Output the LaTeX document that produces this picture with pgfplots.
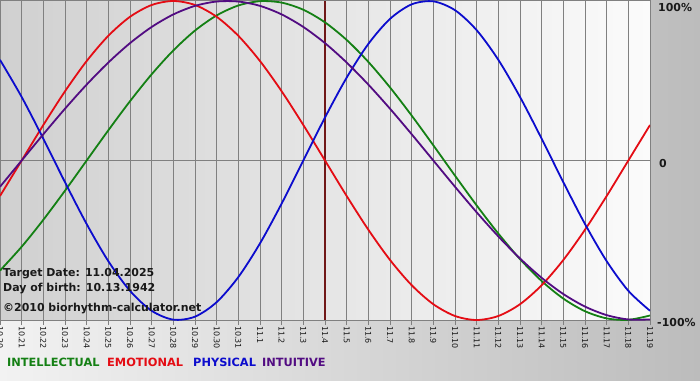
\documentclass[border=0pt]{standalone}
\usepackage{fontspec}
\setmainfont{DejaVu Sans}
\usepackage{pgfplots}
\pgfplotsset{compat=1.18}
\definecolor{cInt}{RGB}{20,128,20}
\definecolor{cEmo}{RGB}{228,12,20}
\definecolor{cPhy}{RGB}{12,12,205}
\definecolor{cItu}{RGB}{82,12,130}
\definecolor{cMark}{RGB}{112,24,24}
\definecolor{cGrid}{RGB}{128,128,128}
\definecolor{bgL}{RGB}{242,242,242}
\definecolor{bgR}{RGB}{188,188,188}
\definecolor{plL}{RGB}{208,208,208}
\definecolor{plR}{RGB}{251,251,251}
\definecolor{txt}{RGB}{25,25,25}
\begin{document}
\begin{tikzpicture}[x=1bp,y=1bp]
\useasboundingbox (0,0) rectangle (700,380);
\shade[left color=bgL, right color=bgR] (0,0) rectangle (700,380);
\begin{axis}[at={(0bp,219.5bp)}, anchor=origin, scale only axis,
  width=650bp, height=319bp,
  xmin=0, xmax=30, ymin=-1, ymax=1,
  axis background/.style={left color=plL, right color=plR},
  axis line style={cGrid, line width=1bp},
  xtick={0,...,30},
  xticklabels={10.20,10.21,10.22,10.23,10.24,10.25,10.26,10.27,10.28,10.29,10.30,10.31,11.1,11.2,11.3,11.4,11.5,11.6,11.7,11.8,11.9,11.10,11.11,11.12,11.13,11.14,11.15,11.16,11.17,11.18,11.19},
  xticklabel style={rotate=-90, anchor=west, font=\fontsize{8}{8}\selectfont, text=txt, inner sep=1bp},
  xtick pos=lower, tick align=outside, major tick length=5bp,
  xtick style={cGrid, line width=1bp},
  ytick={0}, yticklabels={}, ytick style={draw=none},
  xmajorgrids, ymajorgrids,
  grid style={cGrid, line width=1bp},
  every axis plot/.append style={line width=1.8bp, smooth, no markers},
]
\addplot[cMark, line width=2bp, sharp plot] coordinates {(15,-1) (15,1)};
% intellectual
\addplot[cInt] coordinates {
(0,-0.6901) (1,-0.5406) (2,-0.3717) (3,-0.1893) (4,0) (5,0.1893) (6,0.3717) (7,0.5406) (8,0.6901) (9,0.8146) (10,0.9096)
(11,0.9718) (12,0.9989) (13,0.9898) (14,0.9450) (15,0.8660) (16,0.7557) (17,0.6182) (18,0.4582) (19,0.2817) (20,0.0951)
(21,-0.0951) (22,-0.2817) (23,-0.4582) (24,-0.6182) (25,-0.7557) (26,-0.8660) (27,-0.9450) (28,-0.9898) (29,-0.9989) (30,-0.9718)};
% emotional
\addplot[cEmo] coordinates {
(0,-0.2225) (1,0) (2,0.2225) (3,0.4339) (4,0.6235) (5,0.7818) (6,0.9010) (7,0.9749) (8,1) (9,0.9749) (10,0.9010)
(11,0.7818) (12,0.6235) (13,0.4339) (14,0.2225) (15,0) (16,-0.2225) (17,-0.4339) (18,-0.6235) (19,-0.7818) (20,-0.9010)
(21,-0.9749) (22,-1) (23,-0.9749) (24,-0.9010) (25,-0.7818) (26,-0.6235) (27,-0.4339) (28,-0.2225) (29,0) (30,0.2225)};
% physical
\addplot[cPhy] coordinates {
(0,0.6311) (1,0.3984) (2,0.1362) (3,-0.1362) (4,-0.3984) (5,-0.6311) (6,-0.8170) (7,-0.9423) (8,-0.9977) (9,-0.9791) (10,-0.8879)
(11,-0.7308) (12,-0.5196) (13,-0.2698) (14,0) (15,0.2698) (16,0.5196) (17,0.7308) (18,0.8879) (19,0.9791) (20,0.9977)
(21,0.9423) (22,0.8170) (23,0.6311) (24,0.3984) (25,0.1362) (26,-0.1362) (27,-0.3984) (28,-0.6311) (29,-0.8170) (30,-0.9423)};
% intuitive
\addplot[cItu] coordinates {
(0,-0.1646) (1,0) (2,0.1646) (3,0.3247) (4,0.4759) (5,0.6142) (6,0.7357) (7,0.8372) (8,0.9158) (9,0.9694) (10,0.9966)
(11,0.9966) (12,0.9694) (13,0.9158) (14,0.8372) (15,0.7357) (16,0.6142) (17,0.4759) (18,0.3247) (19,0.1646) (20,0)
(21,-0.1646) (22,-0.3247) (23,-0.4759) (24,-0.6142) (25,-0.7357) (26,-0.8372) (27,-0.9158) (28,-0.9694) (29,-0.9966) (30,-0.9966)};
\end{axis}
\begin{scope}[every node/.style={inner sep=0pt, anchor=base west, font=\bfseries\fontsize{11}{11}\selectfont}]
\node[text=txt] at (3,104) {Target Date: 11.04.2025};
\node[text=txt] at (3,89) {Day of birth: 10.13.1942};
\node[text=txt] at (3,69) {©2010 biorhythm-calculator.net};
\node[text=txt] at (658,369) {100\%};
\node[text=txt] at (659,213) {0};
\node[text=txt] at (657,54) {-100\%};
\end{scope}
\begin{scope}[every node/.style={inner sep=0pt, anchor=base west, font=\bfseries\fontsize{11.4}{11.4}\selectfont}]
\node[text=cInt] at (7,14) {INTELLECTUAL};
\node[text=cEmo] at (107,14) {EMOTIONAL};
\node[text=cPhy] at (193,14) {PHYSICAL};
\node[text=cItu] at (262,14) {INTUITIVE};
\end{scope}
\end{tikzpicture}
\end{document}
